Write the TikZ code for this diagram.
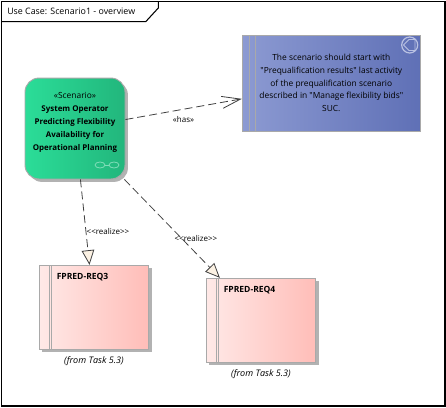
\documentclass[tikz,border=0pt]{standalone}
\usepackage{fontspec}
\setmainfont{Open Sans}[Ligatures=TeXOff]
\usetikzlibrary{arrows.meta,shadows}
\definecolor{boxline}{HTML}{A9A9A9}
\definecolor{headfill}{HTML}{FBF1E3}
\definecolor{scenleft}{HTML}{2BDD98}
\definecolor{scenright}{HTML}{22B67C}
\definecolor{scenicon}{HTML}{7FDDB8}
\definecolor{noteleft}{HTML}{8C9AD2}
\definecolor{noteright}{HTML}{5F70B6}
\definecolor{noteicon}{HTML}{B9C1E2}
\definecolor{reqleft}{HTML}{FFE9E7}
\definecolor{reqright}{HTML}{FFBDB8}
\tikzset{
	boxshadow/.style={drop shadow={shadow xshift=2.2pt,shadow yshift=-2.2pt,fill=black!30,opacity=1}},
	scenariobox/.style={draw=boxline,line width=0.7pt,rounded corners=10.5pt,left color=scenleft,right color=scenright,minimum width=75pt,minimum height=75.7pt,boxshadow},
	notebox/.style={draw=boxline,line width=0.7pt,left color=noteleft,right color=noteright,minimum width=133.5pt,minimum height=72pt,align=center,text=black,font=\fontsize{6.3}{9.6}\selectfont},
	reqbox/.style={draw=boxline,line width=0.7pt,left color=reqleft,right color=reqright,minimum width=82pt,minimum height=63pt,boxshadow},
	reqlabel/.style={anchor=west,font=\fontsize{6.4}{7.5}\selectfont\bfseries,inner sep=0pt},
	fromlabel/.style={font=\fontsize{6.8}{7.5}\selectfont\itshape,inner sep=0pt},
	linklabel/.style={font=\fontsize{6}{7.5}\selectfont,inner sep=0pt},
	dashlink/.style={draw=black!75,line width=0.6pt,dash pattern=on 6pt off 3pt},
	hasarrow/.style={-{Straight Barb[length=14pt,width=9pt,line width=0.6pt]}},
	realizearrow/.style={-{Triangle[open,length=11pt,width=9.5pt,fill=headfill,line width=0.6pt]}},
}
\begin{document}
\begin{tikzpicture}[x=0.75pt,y=-0.75pt]
	%%%%% START %%%%%
	\useasboundingbox (0, 0) rectangle (446, 407);
	\fill[white] (0, 0) rectangle (446, 407);
	
	%% frame and its tab
	\draw[line width=0.8pt] (1.5, 1.5) rectangle (445, 406);
	\draw[line width=0.8pt] (1.5, 21.7) -- (145.7, 21.7) -- (158.3, 8) -- (158.3, 1.5);
	\node[anchor=west, inner sep=0pt, font=\fontsize{6.65}{7.5}\selectfont] (title) at (7, 11) {Use Case: Scenario1 - overview};
	
	%% scenario
	\node[scenariobox] (scenario) at (75, 128.5) {};
	\node[align=center, inner sep=0pt, font=\fontsize{5.95}{9.75}\selectfont] (scenariotext) at (75, 122) {{\fontsize{6.3}{9.75}\selectfont «Scenario»}\\\textbf{System Operator}\\\textbf{Predicting Flexibility}\\\textbf{Availability for}\\\textbf{Operational Planning}};
	\draw[scenicon, line width=0.6pt] (100, 165) ellipse (5 and 3);
	\draw[scenicon, line width=0.6pt] (114, 165) ellipse (5 and 3);
	\draw[scenicon, line width=0.6pt] (105, 165) -- (109, 165);
	
	%% note
	\node[notebox] (note) at (331.3, 83) {The scenario should start with\\"Prequalification results" last activity\\of the prequalification scenario\\described in "Manage flexibility bids"\\SUC.};
	\draw[boxline, line width=0.7pt] (249, 35) -- (249, 131);
	\draw[boxline, line width=0.7pt] (255, 35) -- (255, 131);
	\draw[noteicon, line width=0.9pt] (409.7, 45) circle (8);
	\draw[noteicon, line width=0.7pt] (403.5, 45) -- (409, 39.5) -- (415, 39.5) -- (415, 50.5) -- (409, 50.5) -- cycle;
	
	%% requirements
	\node[reqbox] (reqthree) at (94, 307.3) {};
	\draw[boxline, line width=0.7pt] (49, 265.3) -- (49, 349.3);
	\draw[boxline, line width=0.7pt] (51, 265.3) -- (51, 349.3);
	\node[reqlabel] (reqthreetext) at (56.5, 277) {FPRED-REQ3};
	\node[fromlabel] (fromthree) at (94, 361.5) {(from Task 5.3)};
	
	\node[reqbox] (reqfour) at (261, 320.3) {};
	\draw[boxline, line width=0.7pt] (216, 278.3) -- (216, 362.3);
	\draw[boxline, line width=0.7pt] (218, 278.3) -- (218, 362.3);
	\node[reqlabel] (reqfourtext) at (223.5, 290) {FPRED-REQ4};
	\node[fromlabel] (fromfour) at (261, 374.5) {(from Task 5.3)};
	
	%% connectors
	\draw[dashlink, hasarrow] (scenario) -- (note);
	\draw[dashlink, realizearrow] (scenario) -- (reqthree);
	\draw[dashlink, realizearrow] (scenario) -- (reqfour);
	
	\node[linklabel] (haslabel) at (183.5, 119) {«has»};
	\node[linklabel] (realizeone) at (108, 231) {<<realize>>};
	\node[linklabel] (realizetwo) at (196, 238) {<<realize>>};
	%%%%% END %%%%%
\end{tikzpicture}
\end{document}
